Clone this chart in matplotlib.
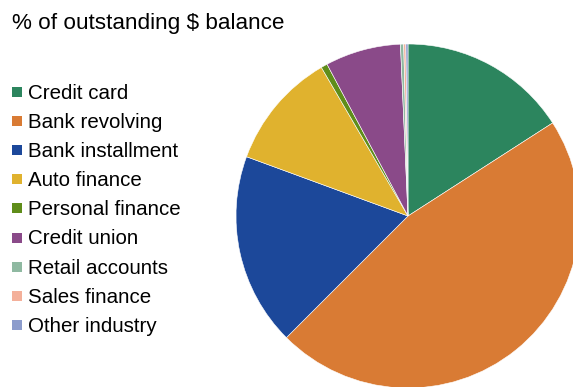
import matplotlib
matplotlib.use("Agg")
import matplotlib.pyplot as plt
from matplotlib.patches import Rectangle

plt.rcParams["font.family"] = ["Liberation Sans", "DejaVu Sans"]

categories = ["Credit card", "Bank revolving", "Bank installment", "Auto finance",
              "Personal finance", "Credit union", "Retail accounts", "Sales finance",
              "Other industry"]
shares = [15.9, 46.6, 18.1, 11.0, 0.6, 7.1, 0.3, 0.2, 0.2]
colors = ["#2c855e", "#d97b34", "#1c489a", "#e0b22e", "#5f8d1a",
          "#8a4a89", "#8fb9a1", "#f4b09a", "#8c9ccc"]

W, H = 573, 387
fig = plt.figure(figsize=(W / 100, H / 100), dpi=100)

# pie centre ~ (408, 216) px, radius ~172 px
cx, cy, r = 408, 216, 172
ax = fig.add_axes([(cx - r) / W, (H - cy - r) / H, 2 * r / W, 2 * r / H])
wedges, _ = ax.pie(shares, colors=colors, startangle=90, counterclock=False,
                   radius=1, wedgeprops=dict(edgecolor="white", linewidth=0.4))
ax.set_xlim(-1, 1)
ax.set_ylim(-1, 1)
ax.set_aspect("equal")
ax.axis("off")

fig.text(12 / W, 1 - 29 / H, "% of outstanding $ balance", fontsize=16.2,
         va="baseline", ha="left")

# legend drawn by hand: rows ~29 px apart
y0, step = 92, 29.1
for i, (lab, col) in enumerate(zip(categories, colors)):
    y = y0 + i * step
    fig.patches.append(Rectangle((12 / W, 1 - (y + 5) / H), 10 / W, 10 / H,
                                 transform=fig.transFigure, facecolor=col,
                                 edgecolor="none"))
    fig.text(28 / W, 1 - (y + 7) / H, lab, fontsize=14.8, va="baseline", ha="left")

fig.savefig("out.png", dpi=100)
